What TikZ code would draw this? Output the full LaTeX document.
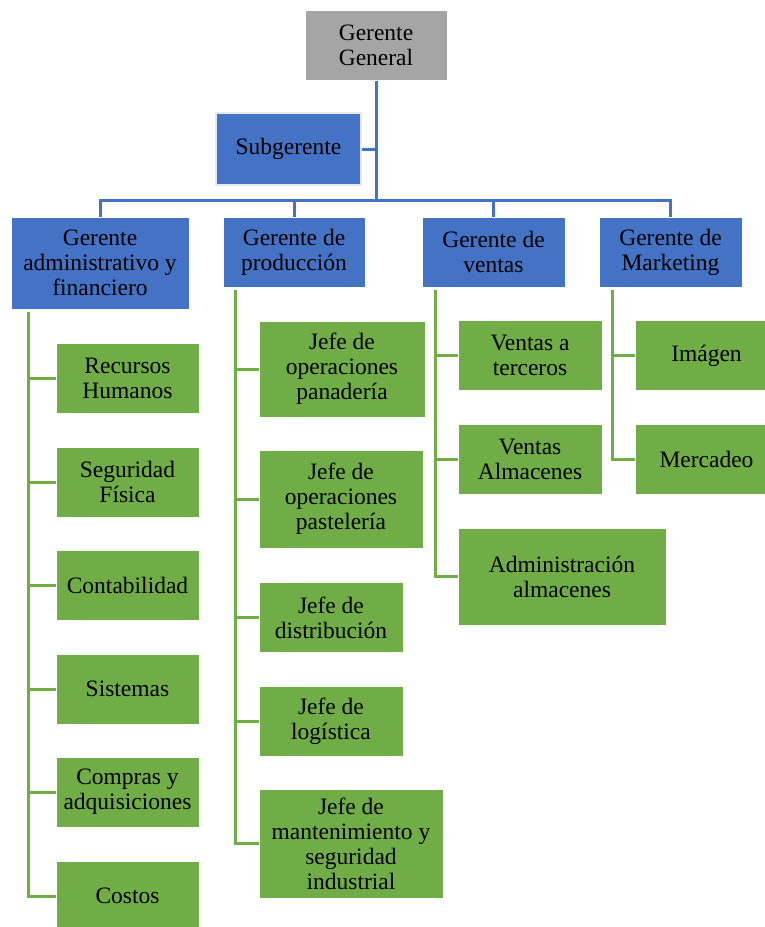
\documentclass[tikz,border=0pt]{standalone}
\usepackage{fontspec}
\setmainfont{Liberation Serif}
\definecolor{azul}{HTML}{4472C4}
\definecolor{verde}{HTML}{70AD47}
\definecolor{gris}{HTML}{A5A5A5}

\begin{document}
\begin{tikzpicture}[x=1pt, y=-1pt,
	caja/.style={draw=white, line width=1pt, align=center, inner sep=0pt, font=\fontsize{23.5}{25}\selectfont},
	gerente/.style={caja, fill=azul},
	jefe/.style={caja, fill=verde},
	lineaazul/.style={draw=azul, line width=3pt},
	lineaverde/.style={draw=verde, line width=3pt}]
%\draw [lightgray](0,0) grid[step=50] (765,927);
\useasboundingbox (0,0) rectangle (765,927);

	% Dibuja la caja del gerente general y del subgerente
	\node[caja, fill=gris, minimum width=142pt, minimum height=70pt] (gg) at (376,45) {Gerente\\General};
	\node[gerente, draw=gray!18, line width=2.5pt, minimum width=145pt, minimum height=72pt] (sub) at (288.5,149) {Subgerente};

	% Dibuja los cuatro gerentes de area
	\node[gerente, minimum width=178pt, minimum height=92pt] (adm) at (100,263) {Gerente\\administrativo y\\financiero};
	\node[gerente, minimum width=142pt, minimum height=70pt] (prod) at (294,252) {Gerente de\\producción};
	\node[gerente, minimum width=143pt, minimum height=70pt] (ven) at (493.5,252) {Gerente de\\ventas};
	\node[gerente, minimum width=143pt, minimum height=70pt] (mkt) at (670.5,252) {Gerente de\\Marketing};

	% Lineas azules (gerente general -> subgerente y gerentes)
	\coordinate (bus) at (376,200);
	\draw[lineaazul] (gg.south) -- (bus);
	\draw[lineaazul] (sub.east) -- (sub.east -| bus);
	\draw[lineaazul] (adm.north) |- (bus) -| (mkt.north);
	\draw[lineaazul] (prod.north) -- (prod.north |- bus);
	\draw[lineaazul] (ven.north) -- (ven.north |- bus);

	% Dibuja las cajas bajo el gerente administrativo y financiero
	\node[jefe, minimum width=143pt, minimum height=70pt] (rh) at (127.5,378) {Recursos\\Humanos};
	\node[jefe, minimum width=143pt, minimum height=70pt] (sf) at (127.5,482) {Seguridad\\Física};
	\node[jefe, minimum width=143pt, minimum height=70pt] (cont) at (127.5,585) {Contabilidad};
	\node[jefe, minimum width=143pt, minimum height=70pt] (sis) at (127.5,689) {Sistemas};
	\node[jefe, minimum width=143pt, minimum height=70pt] (comp) at (127.5,792) {Compras y\\adquisiciones};
	\node[jefe, minimum width=143pt, minimum height=70pt] (cost) at (127.5,896) {Costos};

	% Dibuja las cajas bajo el gerente de produccion
	\node[jefe, minimum width=166pt, minimum height=96pt] (pan) at (342,369) {Jefe de\\operaciones\\panadería};
	\node[jefe, minimum width=164pt, minimum height=98pt] (past) at (341,499) {Jefe de\\operaciones\\pastelería};
	\node[jefe, minimum width=144pt, minimum height=70pt] (dist) at (331,617.5) {Jefe de\\distribución};
	\node[jefe, minimum width=144pt, minimum height=70pt] (log) at (331,721) {Jefe de\\logística};
	\node[jefe, minimum width=184pt, minimum height=109pt] (mant) at (351,843.5) {Jefe de\\mantenimiento y\\seguridad\\industrial};

	% Dibuja las cajas bajo el gerente de ventas
	\node[jefe, minimum width=144pt, minimum height=70pt] (vt) at (530,355.5) {Ventas a\\terceros};
	\node[jefe, minimum width=144pt, minimum height=70pt] (va) at (530,459) {Ventas\\Almacenes};
	\node[jefe, minimum width=208pt, minimum height=97pt] (aa) at (562,576.5) {Administración\\almacenes};

	% Dibuja las cajas bajo el gerente de marketing
	\node[jefe, minimum width=143pt, minimum height=70pt] (img) at (706.5,355.5) {Imágen};
	\node[jefe, minimum width=143pt, minimum height=70pt] (merc) at (706.5,459) {Mercadeo};

	% Lineas verdes del gerente administrativo
	\coordinate (ejeadm) at (28,312);
	\draw[lineaverde] (ejeadm) |- (cost.west);
	\draw[lineaverde] (ejeadm |- rh.west) -- (rh.west);
	\draw[lineaverde] (ejeadm |- sf.west) -- (sf.west);
	\draw[lineaverde] (ejeadm |- cont.west) -- (cont.west);
	\draw[lineaverde] (ejeadm |- sis.west) -- (sis.west);
	\draw[lineaverde] (ejeadm |- comp.west) -- (comp.west);

	% Lineas verdes del gerente de produccion
	\coordinate (ejeprod) at (235,290);
	\draw[lineaverde] (ejeprod) |- (mant.west);
	\draw[lineaverde] (ejeprod |- pan.west) -- (pan.west);
	\draw[lineaverde] (ejeprod |- past.west) -- (past.west);
	\draw[lineaverde] (ejeprod |- dist.west) -- (dist.west);
	\draw[lineaverde] (ejeprod |- log.west) -- (log.west);

	% Lineas verdes del gerente de ventas
	\coordinate (ejeven) at (435,290);
	\draw[lineaverde] (ejeven) |- (aa.west);
	\draw[lineaverde] (ejeven |- vt.west) -- (vt.west);
	\draw[lineaverde] (ejeven |- va.west) -- (va.west);

	% Lineas verdes del gerente de marketing
	\coordinate (ejemkt) at (612,290);
	\draw[lineaverde] (ejemkt) |- (merc.west);
	\draw[lineaverde] (ejemkt |- img.west) -- (img.west);

\end{tikzpicture}
\end{document}
